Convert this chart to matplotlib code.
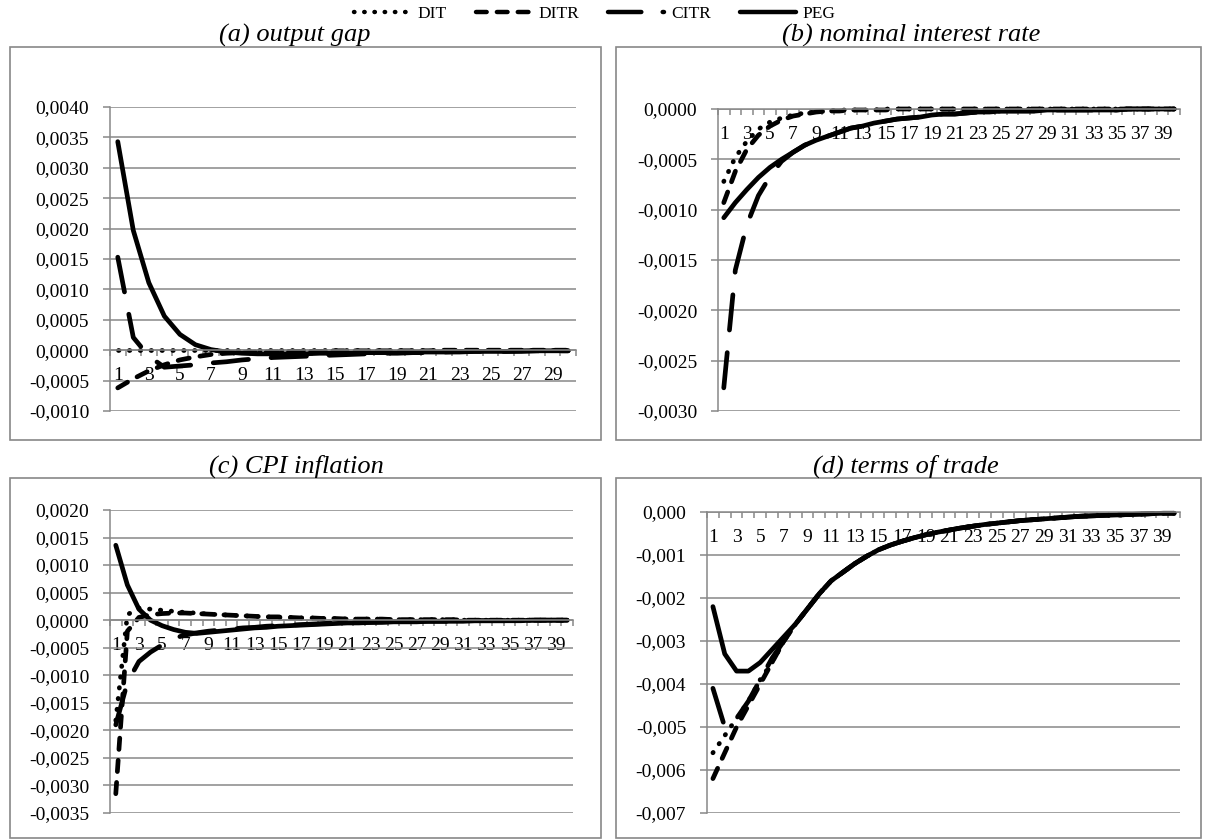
import numpy as np
import matplotlib
matplotlib.use("Agg")
import matplotlib.pyplot as plt
from matplotlib.lines import Line2D
from matplotlib.patches import Rectangle
from matplotlib.ticker import FuncFormatter

plt.rcParams['font.family'] = ['Liberation Serif', 'DejaVu Serif']

# ------------------------------------------------------------------
# Impulse responses
# ------------------------------------------------------------------

# (a) output gap, 30 periods
dit_a = [0.0] * 30
ditr_a = [-0.00062, -0.00047, -0.00034, -0.00024, -0.00016, -0.00011, -0.00007, -0.00005,
          -0.00004, -0.00003, -0.00003, -0.00002, -0.00002, -0.00002, -0.00001, -0.00001,
          -0.00001, -0.00001, -0.00001, -0.00001, -0.00001, 0.0, 0.0, 0.0, 0.0, 0.0, 0.0,
          0.0, 0.0, 0.0]
citr_a = [0.00153, 0.00021, -0.00010, -0.00028, -0.00026, -0.00024, -0.00021, -0.00019,
          -0.00016, -0.00014, -0.00012, -0.00011, -0.00010, -0.00009, -0.00008, -0.00007,
          -0.00006, -0.00005, -0.00005, -0.00004, -0.00004, -0.00003, -0.00003, -0.00002,
          -0.00002, -0.00002, -0.00002, -0.00001, -0.00001, -0.00001]
peg_a = [0.00343, 0.00197, 0.00111, 0.00056, 0.00026, 0.00009, 0.00001, -0.00003,
         -0.00005, -0.00006, -0.00006, -0.00006, -0.00006, -0.00005, -0.00005, -0.00005,
         -0.00004, -0.00004, -0.00004, -0.00003, -0.00003, -0.00003, -0.00002, -0.00002,
         -0.00002, -0.00002, -0.00001, -0.00001, -0.00001, -0.00001]

# (b) nominal interest rate, 40 periods
dit_b = [-0.00072, -0.00048, -0.00032, -0.00020, -0.00013, -0.00009, -0.00006, -0.00004,
         -0.00003, -0.00002, -0.00001, -0.00001, -0.00001, -0.00001, 0.0, 0.0, 0.0, 0.0,
         0.0, 0.0, 0.0, 0.0, 0.0, 0.0, 0.0, 0.0, 0.0, 0.0, 0.0, 0.0, 0.0, 0.0, 0.0, 0.0,
         0.0, 0.0, 0.0, 0.0, 0.0, 0.0]
ditr_b = [-0.00093, -0.00062, -0.00040, -0.00026, -0.00017, -0.00011, -0.00007, -0.00005,
          -0.00003, -0.00002, -0.00002, -0.00001, -0.00001, -0.00001, -0.00001, 0.0, 0.0,
          0.0, 0.0, 0.0, 0.0, 0.0, 0.0, 0.0, 0.0, 0.0, 0.0, 0.0, 0.0, 0.0, 0.0, 0.0, 0.0,
          0.0, 0.0, 0.0, 0.0, 0.0, 0.0, 0.0]
citr_b = [-0.00277, -0.00160, -0.00115, -0.00086, -0.00067, -0.00052, -0.00043, -0.00036,
          -0.00031, -0.00027, -0.00023, -0.00019, -0.00017, -0.00014, -0.00012, -0.00010,
          -0.00009, -0.00008, -0.00006, -0.00005, -0.00005, -0.00004, -0.00003, -0.00003,
          -0.00002, -0.00002, -0.00002, -0.00002, -0.00001, -0.00001, -0.00001, -0.00001,
          -0.00001, -0.00001, -0.00001, 0.0, 0.0, 0.0, 0.0, 0.0]
peg_b = [-0.00108, -0.00093, -0.00080, -0.00068, -0.00058, -0.00050, -0.00043, -0.00036,
         -0.00031, -0.00027, -0.00023, -0.00019, -0.00017, -0.00014, -0.00012, -0.00010,
         -0.00009, -0.00008, -0.00006, -0.00005, -0.00005, -0.00004, -0.00003, -0.00003,
         -0.00002, -0.00002, -0.00002, -0.00002, -0.00001, -0.00001, -0.00001, -0.00001,
         -0.00001, -0.00001, -0.00001, 0.0, 0.0, 0.0, 0.0, 0.0]

# (c) CPI inflation, 40 periods
dit_c = [-0.00182, 0.00010, 0.00022, 0.00020, 0.00018, 0.00016, 0.00014, 0.00013,
         0.00011, 0.00010, 0.00009, 0.00008, 0.00007, 0.00006, 0.00005, 0.00005, 0.00004,
         0.00004, 0.00003, 0.00003, 0.00002, 0.00002, 0.00002, 0.00002, 0.00001, 0.00001,
         0.00001, 0.00001, 0.00001, 0.00001, 0.0, 0.0, 0.0, 0.0, 0.0, 0.0, 0.0, 0.0, 0.0, 0.0]
ditr_c = [-0.00315, -0.00020, 0.00005, 0.00010, 0.00012, 0.00013, 0.00013, 0.00012,
          0.00011, 0.00010, 0.00009, 0.00008, 0.00007, 0.00006, 0.00006, 0.00005, 0.00004,
          0.00004, 0.00003, 0.00003, 0.00002, 0.00002, 0.00002, 0.00002, 0.00001, 0.00001,
          0.00001, 0.00001, 0.00001, 0.00001, 0.0, 0.0, 0.0, 0.0, 0.0, 0.0, 0.0, 0.0, 0.0, 0.0]
citr_c = [-0.00190, -0.00113, -0.00075, -0.00058, -0.00045, -0.00033, -0.00027, -0.00023,
          -0.00020, -0.00018, -0.00016, -0.00014, -0.00013, -0.00011, -0.00010, -0.00009,
          -0.00008, -0.00007, -0.00006, -0.00005, -0.00005, -0.00004, -0.00004, -0.00003,
          -0.00003, -0.00003, -0.00002, -0.00002, -0.00002, -0.00002, -0.00001, -0.00001,
          -0.00001, -0.00001, -0.00001, 0.0, 0.0, 0.0, 0.0, 0.0]
peg_c = [0.00136, 0.00064, 0.00020, 0.00000, -0.00010, -0.00017, -0.00022, -0.00024,
         -0.00022, -0.00020, -0.00018, -0.00016, -0.00014, -0.00013, -0.00011, -0.00010,
         -0.00009, -0.00008, -0.00007, -0.00006, -0.00005, -0.00005, -0.00004, -0.00004,
         -0.00003, -0.00003, -0.00003, -0.00002, -0.00002, -0.00002, -0.00002, -0.00001,
         -0.00001, -0.00001, -0.00001, -0.00001, 0.0, 0.0, 0.0, 0.0]

# (d) terms of trade, 40 periods
tail_d = [-0.0030, -0.0026, -0.00225, -0.0019, -0.0016, -0.0014, -0.0012, -0.00103,
          -0.00088, -0.00077, -0.00068, -0.00060, -0.00053, -0.00047, -0.00042, -0.00037,
          -0.00033, -0.00029, -0.00026, -0.00023, -0.00020, -0.00018, -0.00016, -0.00014,
          -0.00012, -0.00010, -0.00009, -0.00008, -0.00007, -0.00006, -0.00005, -0.00004,
          -0.00003, -0.00003]
dit_d = [-0.0056, -0.0052, -0.0048, -0.0044, -0.0039, -0.0035] + tail_d
ditr_d = [-0.0062, -0.0056, -0.0050, -0.0045, -0.0040, -0.0035] + tail_d
citr_d = [-0.0041, -0.0050, -0.0048, -0.0044, -0.0039, -0.0034] + tail_d
peg_d = [-0.0022, -0.0033, -0.0037, -0.0037, -0.0035, -0.0032] + [-0.0029] + tail_d[1:]

# ------------------------------------------------------------------
W, H = 1210, 839
fig = plt.figure(figsize=(W / 100, H / 100), dpi=100)

GRID = '#888888'
styles = {
    'DIT':  dict(linestyle=(0, (0.1, 2.2)), dash_capstyle='round'),
    'DITR': dict(linestyle=(0, (2.4, 2.3)), dash_capstyle='round'),
    'CITR': dict(linestyle=(0, (7.5, 4.8)), dash_capstyle='round'),
    'PEG':  dict(linestyle='-', solid_capstyle='round'),
}
LW = 3.4
TICK_FS = 14


def px_axes(left, top, right, bottom):
    return fig.add_axes([left / W, 1 - bottom / H, (right - left) / W, (bottom - top) / H])


def box(left, top, right, bottom):
    fig.patches.append(Rectangle((left / W, 1 - bottom / H), (right - left) / W,
                                 (bottom - top) / H, transform=fig.transFigure,
                                 fill=False, edgecolor=GRID, linewidth=1.2))


def panel(ax, series, ylo, yhi, ystep, ndec):
    n = len(series[0][1])
    t = np.arange(1, n + 1)
    for name, vals in series:
        ax.plot(t, vals, color='black', linewidth=LW, clip_on=False, **styles[name])
    ax.set_xlim(0.5, n + 0.5)
    ax.set_ylim(ylo, yhi)
    ax.set_yticks(np.arange(ylo, yhi + ystep / 2, ystep))
    ax.yaxis.set_major_formatter(FuncFormatter(
        lambda v, p: ('{:.%df}' % ndec).format(0.0 if abs(v) < 1e-12 else v).replace('.', ',')))
    ax.grid(axis='y', color=GRID, linewidth=1.1)
    ax.set_axisbelow(True)
    for s in ['top', 'right']:
        ax.spines[s].set_visible(False)
    ax.spines['left'].set_color(GRID)
    ax.spines['left'].set_linewidth(1.1)
    ax.spines['bottom'].set_position(('data', 0))
    ax.spines['bottom'].set_color(GRID)
    ax.spines['bottom'].set_linewidth(1.1)
    ax.set_xticks(np.arange(1, n + 1, 2))
    ax.set_xticklabels([str(k) for k in range(1, n + 1, 2)])
    ax.set_xticks(np.arange(0.5, n + 1, 1), minor=True)
    ax.tick_params(axis='x', which='major', length=0, pad=12, labelsize=TICK_FS)
    ax.tick_params(axis='x', which='minor', length=4, width=1.1, color=GRID, direction='out')
    ax.tick_params(axis='y', length=5, width=1.1, color=GRID, pad=10, labelsize=TICK_FS)


# chart area boxes
box(10, 47, 601, 440)
box(616, 47, 1201, 440)
box(10, 478, 601, 838)
box(616, 478, 1201, 838)

ax_a = px_axes(110, 107, 576, 411)
panel(ax_a, [('DIT', dit_a), ('DITR', ditr_a), ('CITR', citr_a), ('PEG', peg_a)],
      -0.0010, 0.0040, 0.0005, 4)

ax_b = px_axes(718, 109, 1180, 411)
panel(ax_b, [('DIT', dit_b), ('DITR', ditr_b), ('CITR', citr_b), ('PEG', peg_b)],
      -0.0030, 0.0, 0.0005, 4)

ax_c = px_axes(110, 510, 573, 813)
panel(ax_c, [('DIT', dit_c), ('DITR', ditr_c), ('CITR', citr_c), ('PEG', peg_c)],
      -0.0035, 0.0020, 0.0005, 4)

ax_d = px_axes(707, 512, 1180, 813)
panel(ax_d, [('DIT', dit_d), ('DITR', ditr_d), ('CITR', citr_d), ('PEG', peg_d)],
      -0.007, 0.0, 0.001, 3)

# panel titles
title_kw = dict(fontsize=19, style='italic', ha='center', va='center')
fig.text(295 / W, 1 - 35 / H, '(a) output gap', **title_kw)
fig.text(911 / W, 1 - 35 / H, '(b) nominal interest rate', **title_kw)
fig.text(296 / W, 1 - 466 / H, '(c) CPI inflation', **title_kw)
fig.text(906 / W, 1 - 466 / H, '(d) terms of trade', **title_kw)

# legend
handles = [Line2D([], [], color='black', linewidth=3.2, **styles[k])
           for k in ['DIT', 'DITR', 'CITR', 'PEG']]
fig.legend(handles, ['DIT', 'DITR', 'CITR', 'PEG'], loc='center',
           bbox_to_anchor=(595 / W, 1 - 14 / H), ncol=4, frameon=False,
           fontsize=12.5, handlelength=3.2, handletextpad=0.4, columnspacing=1.7)

fig.savefig('out.png', dpi=100)
